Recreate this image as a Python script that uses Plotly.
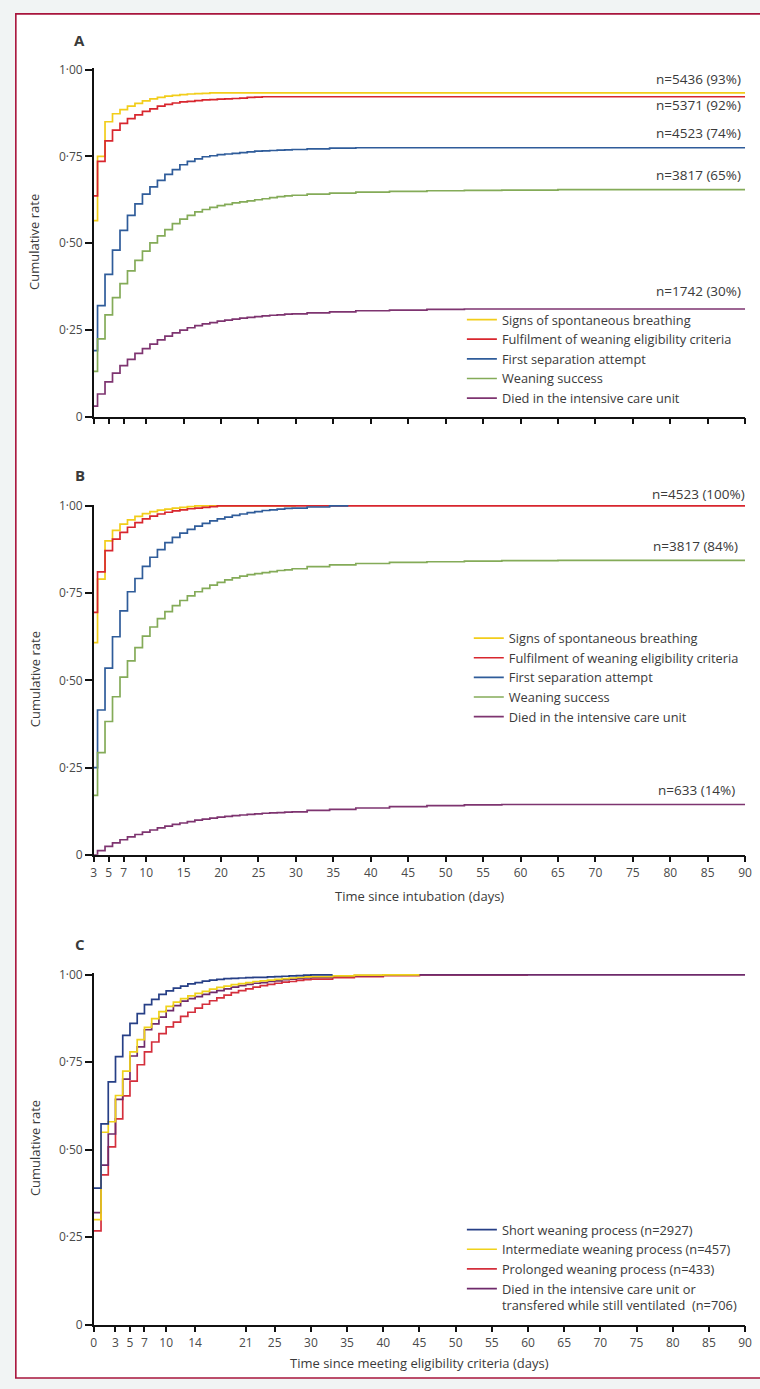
import plotly.graph_objects as go

W, H = 760, 1389

# ---------------- Panel A / B: days since intubation ----------------
days_ab = list(range(3, 31)) + [33, 36, 40, 45, 50, 55, 60, 70, 80, 90]

a_signs = [0.565, 0.75, 0.85, 0.873, 0.885, 0.895, 0.903, 0.91, 0.916, 0.92, 0.924, 0.926,
           0.928, 0.93, 0.931, 0.932, 0.933, 0.933, 0.933, 0.933, 0.933, 0.933, 0.933, 0.933,
           0.933, 0.933, 0.933, 0.933,
           0.933, 0.933, 0.933, 0.933, 0.933, 0.933, 0.933, 0.933, 0.933, 0.933]
a_eligible = [0.636, 0.736, 0.795, 0.826, 0.845, 0.859, 0.87, 0.88, 0.887, 0.895, 0.9, 0.904,
              0.907, 0.909, 0.911, 0.913, 0.914, 0.915, 0.916, 0.917, 0.918, 0.92, 0.921, 0.922,
              0.922, 0.922, 0.922, 0.922,
              0.922, 0.922, 0.922, 0.922, 0.922, 0.922, 0.922, 0.922, 0.922, 0.922]
a_separation = [0.19, 0.32, 0.41, 0.48, 0.537, 0.58, 0.613, 0.641, 0.662, 0.681, 0.698, 0.712,
                0.726, 0.736, 0.743, 0.749, 0.752, 0.755, 0.757, 0.759, 0.761, 0.763, 0.765, 0.766,
                0.767, 0.768, 0.769, 0.77,
                0.772, 0.774, 0.775, 0.775, 0.775, 0.775, 0.775, 0.775, 0.775, 0.775]
a_success = [0.13, 0.224, 0.293, 0.343, 0.383, 0.42, 0.45, 0.477, 0.501, 0.521, 0.539, 0.556,
             0.569, 0.58, 0.59, 0.597, 0.603, 0.608, 0.612, 0.616, 0.619, 0.622, 0.625, 0.628,
             0.631, 0.634, 0.636, 0.638,
             0.641, 0.644, 0.647, 0.649, 0.651, 0.652, 0.653, 0.654, 0.654, 0.654]
a_died = [0.03, 0.065, 0.10, 0.125, 0.147, 0.165, 0.182, 0.196, 0.209, 0.221, 0.232, 0.241,
          0.249, 0.256, 0.262, 0.267, 0.271, 0.275, 0.278, 0.281, 0.284, 0.286, 0.288, 0.29,
          0.292, 0.293, 0.295, 0.296,
          0.299, 0.302, 0.305, 0.307, 0.309, 0.31, 0.31, 0.31, 0.31, 0.31]

b_signs_days = list(range(3, 31))
b_signs = [0.608, 0.79, 0.9, 0.93, 0.948, 0.96, 0.97, 0.978, 0.984, 0.988, 0.991, 0.994,
           0.996, 0.998, 1.0, 1.0, 1.0, 1.0, 1.0, 1.0, 1.0, 1.0, 1.0, 1.0, 1.0, 1.0, 1.0, 1.0]
b_eligible = [0.695, 0.811, 0.872, 0.905, 0.924, 0.939, 0.952, 0.963, 0.971, 0.977, 0.982, 0.986,
              0.989, 0.992, 0.994, 0.996, 0.998, 1.0, 1.0, 1.0, 1.0, 1.0, 1.0, 1.0,
              1.0, 1.0, 1.0, 1.0,
              1.0, 1.0, 1.0, 1.0, 1.0, 1.0, 1.0, 1.0, 1.0, 1.0]
b_separation_days = list(range(3, 31)) + [33, 36, 37]
b_separation = [0.25, 0.415, 0.535, 0.625, 0.699, 0.754, 0.792, 0.827, 0.853, 0.875, 0.895, 0.91,
                0.922, 0.933, 0.942, 0.95, 0.957, 0.963, 0.968, 0.973, 0.977, 0.981, 0.984, 0.987,
                0.989, 0.991, 0.993, 0.994,
                0.997, 1.0, 1.0]
b_success = [0.17, 0.293, 0.382, 0.453, 0.509, 0.556, 0.594, 0.627, 0.653, 0.677, 0.697, 0.714,
             0.729, 0.742, 0.754, 0.764, 0.773, 0.781, 0.788, 0.794, 0.799, 0.803, 0.806, 0.809,
             0.812, 0.815, 0.817, 0.82,
             0.826, 0.831, 0.835, 0.838, 0.84, 0.842, 0.843, 0.844, 0.844, 0.844]
b_died = [0.0, 0.012, 0.024, 0.034, 0.043, 0.051, 0.058, 0.065, 0.071, 0.077, 0.082, 0.087,
          0.091, 0.095, 0.099, 0.102, 0.105, 0.108, 0.11, 0.112, 0.114, 0.116, 0.117, 0.119,
          0.12, 0.121, 0.122, 0.123,
          0.127, 0.13, 0.134, 0.138, 0.141, 0.143, 0.144, 0.144, 0.144, 0.144]

# ---------------- Panel C: days since meeting eligibility criteria ----------------
days_c = list(range(0, 31)) + [33, 36, 40, 45, 50, 60, 70, 80, 90]
c_short = [0.39, 0.574, 0.694, 0.766, 0.827, 0.861, 0.889, 0.915, 0.93, 0.944, 0.954, 0.962,
           0.968, 0.974, 0.978, 0.982, 0.985, 0.987, 0.989, 0.99, 0.991, 0.992, 0.993, 0.993,
           0.994, 0.995, 0.996, 0.997, 0.998, 0.999, 1.0, 1.0]
c_intermediate = [0.30, 0.55, 0.58, 0.655, 0.725, 0.78, 0.815, 0.85, 0.875, 0.895, 0.91, 0.922,
                  0.932, 0.94, 0.947, 0.953, 0.959, 0.964, 0.968, 0.972, 0.975, 0.978, 0.981,
                  0.983, 0.985, 0.987, 0.989, 0.991, 0.993, 0.994, 0.995, 0.997, 0.999, 1.0, 1.0]
c_prolonged = [0.268, 0.428, 0.508, 0.588, 0.654, 0.696, 0.743, 0.78, 0.808, 0.832, 0.851, 0.865,
               0.881, 0.893, 0.905, 0.916, 0.926, 0.934, 0.942, 0.949, 0.955, 0.96, 0.965, 0.969,
               0.973, 0.976, 0.979, 0.981, 0.984, 0.986, 0.988, 0.992, 0.995, 0.998, 1.0, 1.0, 1.0]
c_died = [0.32, 0.456, 0.545, 0.644, 0.702, 0.768, 0.794, 0.843, 0.86, 0.879, 0.898, 0.912,
          0.925, 0.932, 0.938, 0.944, 0.95, 0.955, 0.96, 0.965, 0.969, 0.973, 0.976, 0.978,
          0.981, 0.983, 0.986, 0.988, 0.99, 0.991, 0.993, 0.996, 0.998, 1.0, 1.0, 1.0, 1.0,
          1.0, 1.0, 1.0]

ab_names = ["Signs of spontaneous breathing", "Fulfilment of weaning eligibility criteria",
            "First separation attempt", "Weaning success", "Died in the intensive care unit"]
c_names = ["Short weaning process (n=2927)", "Intermediate weaning process (n=457)",
           "Prolonged weaning process (n=433)",
           "Died in the intensive care unit or<br>transfered while still ventilated  (n=706)"]

a_labels = ["n=5436 (93%)", "n=5371 (92%)", "n=4523 (74%)", "n=3817 (65%)", "n=1742 (30%)"]
b_labels = ["n=4523 (100%)", "n=3817 (84%)", "n=633 (14%)"]

ab_ticks = [3, 5, 7, 10, 15, 20, 25, 30, 35, 40, 45, 50, 55, 60, 65, 70, 75, 80, 85, 90]
c_ticks = [0, 3, 5, 7, 10, 14, 21, 25, 30, 35, 40, 45, 50, 55, 60, 65, 70, 75, 80, 85, 90]
y_ticks = [0, 0.25, 0.5, 0.75, 1.0]
y_ticktext = ["0", "0·25", "0·50", "0·75", "1·00"]

YELLOW, RED, BLUE, GREEN, PURPLE = "#f2cd1a", "#d8262e", "#2f5c9a", "#84ab58", "#7e3470"
C_BLUE, C_YELLOW, C_RED, C_PURPLE = "#263f86", "#f0d21a", "#d42f3c", "#6e2a6b"

FONT = "Open Sans, Roboto, sans-serif"
TXT = "#3a3a3a"


def X(px):
    return px / W


def Y(py):
    return 1 - py / H


fig = go.Figure()


def step(x, y, color, name, ax, legend, shape, rank):
    fig.add_trace(go.Scatter(
        x=x, y=y, mode="lines", name=name, line=dict(color=color, width=1.7, shape=shape),
        xaxis="x" + ax, yaxis="y" + ax, legend=legend, legendrank=rank, hoverinfo="skip"))


# Panel A
step(days_ab, a_signs, YELLOW, ab_names[0], "", "legend", "hvh", 1)
step(days_ab, a_eligible, RED, ab_names[1], "", "legend", "hvh", 2)
step(days_ab, a_separation, BLUE, ab_names[2], "", "legend", "hvh", 3)
step(days_ab, a_success, GREEN, ab_names[3], "", "legend", "hvh", 4)
step(days_ab, a_died, PURPLE, ab_names[4], "", "legend", "hvh", 5)

# Panel B
step(b_signs_days, b_signs, YELLOW, ab_names[0], "2", "legend2", "hvh", 1)
step(days_ab, b_eligible, RED, ab_names[1], "2", "legend2", "hvh", 2)
step(b_separation_days, b_separation, BLUE, ab_names[2], "2", "legend2", "hvh", 3)
step(days_ab, b_success, GREEN, ab_names[3], "2", "legend2", "hvh", 4)
step(days_ab, b_died, PURPLE, ab_names[4], "2", "legend2", "hvh", 5)

# Panel C (drawing order differs from legend order)
step(days_c[:len(c_prolonged)], c_prolonged, C_RED, c_names[2], "3", "legend3", "hv", 3)
step(days_c[:len(c_died)], c_died, C_PURPLE, c_names[3], "3", "legend3", "hv", 4)
step(days_c[:len(c_intermediate)], c_intermediate, C_YELLOW, c_names[1], "3", "legend3", "hv", 2)
step(days_c[:len(c_short)], c_short, C_BLUE, c_names[0], "3", "legend3", "hv", 1)

axis_common = dict(showline=True, linecolor="#111", linewidth=1.5, ticks="outside", ticklen=6,
                   tickwidth=1.5, tickcolor="#111", showgrid=False, zeroline=False,
                   tickfont=dict(family=FONT, size=12, color="#4a4a4a"))

xdom = [X(92), X(752)]
ydom_a = [Y(414), Y(62)]
ydom_b = [Y(857), Y(503)]
ydom_c = [Y(1332), Y(977)]

yax = dict(axis_common, range=[0, 1.004], tickvals=y_ticks, ticktext=y_ticktext, ticklen=7)

fig.update_layout(
    width=W, height=H, margin=dict(l=0, r=0, t=0, b=0),
    paper_bgcolor="#f1f4f4", plot_bgcolor="white",
    font=dict(family=FONT, color=TXT),
    xaxis=dict(axis_common, domain=xdom, range=[3, 90], tickvals=ab_ticks, showticklabels=False,
               anchor="y"),
    yaxis=dict(yax, domain=ydom_a, anchor="x"),
    xaxis2=dict(axis_common, domain=xdom, range=[3, 90], tickvals=ab_ticks, anchor="y2"),
    yaxis2=dict(yax, domain=ydom_b, anchor="x2"),
    xaxis3=dict(axis_common, domain=xdom, range=[0, 90], tickvals=c_ticks, anchor="y3"),
    yaxis3=dict(yax, domain=ydom_c, anchor="x3"),
    showlegend=True,
)

leg_common = dict(bgcolor="rgba(0,0,0,0)", borderwidth=0, xanchor="left", yanchor="top",
                  font=dict(family=FONT, size=12.8, color=TXT), traceorder="normal",
                  itemclick=False, itemdoubleclick=False)
fig.update_layout(
    legend=dict(leg_common, x=X(465), y=Y(301)),
    legend2=dict(leg_common, x=X(472), y=Y(623)),
    legend3=dict(leg_common, x=X(465), y=Y(1221), valign="top"),
)

# frame around the whole figure
fig.add_shape(type="rect", xref="paper", yref="paper", x0=X(13), x1=1.05, y0=Y(1386), y1=Y(7),
              line=dict(color="#a8143c", width=1.6), fillcolor="white", layer="below")

ann = []


def text(x, y, s, size=12, anchor="center", bold=False, angle=0):
    ann.append(dict(xref="paper", yref="paper", x=X(x), y=Y(y), text=f"<b>{s}</b>" if bold else s,
                    showarrow=False, xanchor=anchor, yanchor="middle", textangle=angle,
                    font=dict(family=FONT, size=size, color=TXT)))


for lbl, ypx in zip(["A", "B", "C"], [33, 473, 947]):
    text(78, ypx, lbl, size=15, bold=True)

for ycen in [238, 680, 1154]:
    text(32, ycen, "Cumulative rate", size=13, angle=-90)

text(422, 899, "Time since intubation (days)", size=13)
text(422, 1371, "Time since meeting eligibility criteria (days)", size=13)

for lbl, ypx in zip(a_labels, [73, 99, 127, 170, 287]):
    text(750, ypx, lbl, size=13.5, anchor="right")
for lbl, ypx, xr in zip(b_labels, [492, 545, 792], [754, 747, 744]):
    text(xr, ypx, lbl, size=13.5, anchor="right")

fig.update_layout(annotations=ann)

fig.write_html("out.html")
